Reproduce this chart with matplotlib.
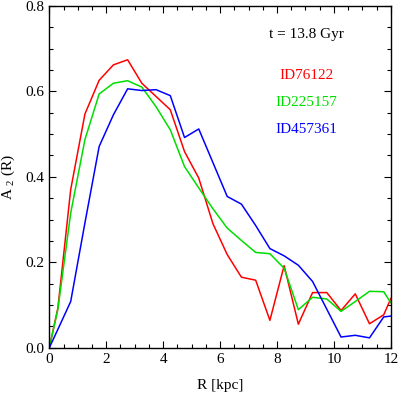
import matplotlib
matplotlib.use("Agg")
import matplotlib.pyplot as plt
from matplotlib.ticker import MultipleLocator

R = [0, 0.3, 0.75, 1.25, 1.75, 2.25, 2.75, 3.25, 3.75, 4.25, 4.75, 5.25, 5.75,
     6.25, 6.75, 7.25, 7.75, 8.25, 8.75, 9.25, 9.75, 10.25, 10.75, 11.25, 11.75, 12]

a2_76122 = [0.0, 0.093, 0.370, 0.547, 0.626, 0.662, 0.674, 0.619, 0.588, 0.557, 0.459, 0.397,
            0.290, 0.218, 0.165, 0.158, 0.064, 0.192, 0.055, 0.129, 0.129, 0.087, 0.126,
            0.056, 0.077, 0.115]
a2_225157 = [0.0, 0.090, 0.315, 0.487, 0.594, 0.619, 0.625, 0.610, 0.564, 0.510, 0.424, 0.374,
             0.325, 0.280, 0.251, 0.223, 0.220, 0.186, 0.089, 0.118, 0.114, 0.085, 0.108,
             0.132, 0.131, 0.105]
a2_457361 = [0.0, 0.043, 0.108, 0.292, 0.471, 0.545, 0.606, 0.602, 0.604, 0.590, 0.492, 0.512,
             0.433, 0.354, 0.336, 0.286, 0.232, 0.215, 0.193, 0.155, 0.090, 0.025, 0.029,
             0.023, 0.072, 0.074]

labels = ["ID76122", "ID225157", "ID457361"]
colors = ["#ff0000", "#00dd00", "#0000ff"]

plt.rcParams['font.family'] = ['Liberation Serif', 'DejaVu Serif']
plt.rcParams['mathtext.fontset'] = 'custom'
plt.rcParams['mathtext.rm'] = 'Liberation Serif'
plt.rcParams['mathtext.it'] = 'Liberation Serif'

fig = plt.figure(figsize=(3.98, 3.96), dpi=100)
ax = fig.add_axes([0.124, 0.122, 0.858, 0.863])

for y, c in zip([a2_76122, a2_225157, a2_457361], colors):
    ax.plot(R, y, color=c, lw=1.1)

ax.set_xlim(0, 12)
ax.set_ylim(0, 0.8)
ax.xaxis.set_major_locator(MultipleLocator(2))
ax.xaxis.set_minor_locator(MultipleLocator(0.5))
ax.yaxis.set_major_locator(MultipleLocator(0.2))
ax.yaxis.set_minor_locator(MultipleLocator(0.05))
ax.yaxis.set_major_formatter(plt.FormatStrFormatter('%.1f'))
ax.tick_params(which='both', direction='in', top=True, right=True, labelsize=11, width=0.8)
ax.tick_params(which='major', length=5)
ax.tick_params(which='minor', length=3)
for s in ax.spines.values():
    s.set_linewidth(1.0)

ax.set_xlabel("R [kpc]", fontsize=11, labelpad=10)
ax.set_ylabel(r"A $_{2}$ (R)", fontsize=11, labelpad=6)

ax.text(9.02, 0.732, "t = 13.8 Gyr", ha='center', va='center', fontsize=11, color='black')
for lab, c, yy in zip(labels, colors, [0.636, 0.573, 0.510]):
    ax.text(9.02, yy, lab, ha='center', va='center', fontsize=11, color=c)

fig.savefig("out.png", dpi=100)
